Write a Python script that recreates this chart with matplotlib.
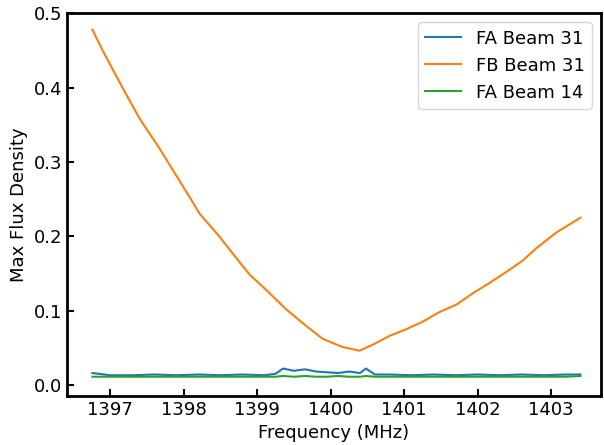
import matplotlib
matplotlib.use("Agg")
import matplotlib.pyplot as plt

freq_fb = [1396.755,1396.90,1397.17,1397.40,1397.67,1397.92,1398.12,1398.21,1398.49,1398.76,1398.90,1399.12,1399.39,1399.67,1399.89,1400.16,1400.39,1400.57,1400.80,1401.03,1401.25,1401.48,1401.71,1401.93,1402.16,1402.39,1402.61,1402.80,1403.07,1403.40]
fb31 = [0.478,0.449,0.399,0.358,0.318,0.278,0.246,0.231,0.199,0.165,0.148,0.128,0.102,0.079,0.062,0.051,0.046,0.054,0.066,0.075,0.085,0.098,0.108,0.123,0.137,0.152,0.167,0.184,0.205,0.225]

freq_fa = [1396.755,1397.0,1397.3,1397.6,1397.9,1398.2,1398.5,1398.8,1399.1,1399.25,1399.35,1399.5,1399.65,1399.8,1399.95,1400.1,1400.25,1400.4,1400.48,1400.6,1400.8,1401.1,1401.4,1401.7,1402.0,1402.3,1402.6,1402.9,1403.2,1403.40]
fa31 = [0.016,0.013,0.013,0.014,0.013,0.014,0.013,0.014,0.013,0.015,0.022,0.019,0.021,0.018,0.017,0.016,0.018,0.016,0.022,0.014,0.014,0.013,0.014,0.013,0.014,0.013,0.014,0.013,0.014,0.014]
fa14 = [0.011,0.011,0.011,0.011,0.011,0.011,0.011,0.011,0.011,0.011,0.012,0.011,0.012,0.011,0.011,0.012,0.011,0.011,0.012,0.011,0.011,0.011,0.011,0.011,0.011,0.011,0.011,0.011,0.011,0.012]

fig, ax = plt.subplots(figsize=(6.04,4.45), dpi=100)
fig.subplots_adjust(left=0.111, right=0.995, top=0.97, bottom=0.11)
ax.plot(freq_fa, fa31, color='#1f77b4', lw=1.5, label='FA Beam 31')
ax.plot(freq_fb, fb31, color='#ff7f0e', lw=1.5, label='FB Beam 31')
ax.plot(freq_fa, fa14, color='#2ca02c', lw=1.5, label='FA Beam 14')
ax.set_xlim(1396.41, 1403.68)
ax.set_ylim(-0.015, 0.5)
ax.set_xticks([1397,1398,1399,1400,1401,1402,1403])
ax.set_yticks([0.0,0.1,0.2,0.3,0.4,0.5])
ax.tick_params(direction='in', labelsize=13, width=1.5, length=5)
for s in ax.spines.values():
    s.set_linewidth(2)
ax.set_xlabel('Frequency (MHz)', fontsize=13)
ax.set_ylabel('Max Flux Density', fontsize=13)
ax.legend(fontsize=13, loc='upper right')
fig.savefig('out.png')
